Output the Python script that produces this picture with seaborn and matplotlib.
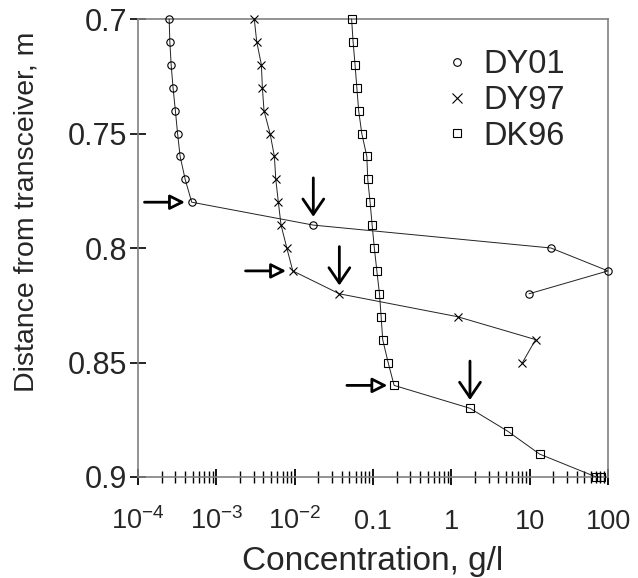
import numpy as np
import pandas as pd
import matplotlib
matplotlib.use("Agg")
import matplotlib.pyplot as plt
from matplotlib.lines import Line2D
from matplotlib.ticker import FixedLocator, LogLocator, NullFormatter
import seaborn as sns

# ---------------- data ----------------
depth_DY01 = [0.70, 0.71, 0.72, 0.73, 0.74, 0.75, 0.76, 0.77, 0.78, 0.79, 0.80, 0.81, 0.82]
conc_DY01 = [2.5e-4, 2.55e-4, 2.65e-4, 2.8e-4, 3.0e-4, 3.2e-4, 3.45e-4, 4.0e-4, 4.85e-4,
             0.0173, 18.7, 100.0, 9.8]

depth_DY97 = [0.70, 0.71, 0.72, 0.73, 0.74, 0.75, 0.76, 0.77, 0.78, 0.79, 0.80, 0.81,
              0.82, 0.83, 0.84, 0.85]
conc_DY97 = [3.05e-3, 3.28e-3, 3.76e-3, 3.87e-3, 4.06e-3, 4.85e-3, 5.51e-3, 5.74e-3,
             6.19e-3, 6.7e-3, 7.94e-3, 9.46e-3, 0.0372, 1.2, 11.9, 8.1]

depth_DK96 = [0.70, 0.71, 0.72, 0.73, 0.74, 0.75, 0.76, 0.77, 0.78, 0.79, 0.80, 0.81,
              0.82, 0.83, 0.84, 0.85, 0.86, 0.87, 0.88, 0.89, 0.90, 0.90]
conc_DK96 = [0.0533, 0.0557, 0.059, 0.0622, 0.0656, 0.0719, 0.0834, 0.0857, 0.0918,
             0.0975, 0.104, 0.112, 0.121, 0.127, 0.133, 0.156, 0.186, 1.73, 5.24,
             13.4, 70.6, 82.0]

series_names = ["DY01", "DY97", "DK96"]
series_markers = ["o", "x", "s"]

# points marked with arrows (index in each series)
right_arrow_idx = {"DY01": 8, "DY97": 11, "DK96": 16}
down_arrow_idx = {"DY01": 9, "DY97": 12, "DK96": 17}

x_ticks = [1e-4, 1e-3, 1e-2, 0.1, 1, 10, 100]
x_ticklabels = [r"$\mathregular{10^{-4}}$", r"$\mathregular{10^{-3}}$",
                r"$\mathregular{10^{-2}}$", "0.1", "1", "10", "100"]
y_ticks = [0.7, 0.75, 0.8, 0.85, 0.9]
y_ticklabels = ["0.7", "0.75", "0.8", "0.85", "0.9"]

# ---------------- style ----------------
sns.set_theme(style="white")
plt.rcParams["font.family"] = ["Liberation Sans", "DejaVu Sans"]
plt.rcParams["mathtext.fontset"] = "custom"
plt.rcParams["mathtext.rm"] = "Liberation Sans"
plt.rcParams["mathtext.it"] = "Liberation Sans"

df = pd.concat([
    pd.DataFrame({"conc": conc_DY01, "depth": depth_DY01, "series": "DY01"}),
    pd.DataFrame({"conc": conc_DY97, "depth": depth_DY97, "series": "DY97"}),
    pd.DataFrame({"conc": conc_DK96, "depth": depth_DK96, "series": "DK96"}),
], ignore_index=True)

fig = plt.figure(figsize=(6.38, 5.78), dpi=100)
ax = fig.add_axes([138 / 638, 1 - 477 / 578, (608 - 138) / 638, (477 - 19) / 578])

msizes = {"o": 5.3, "x": 6.0, "s": 6.0}
for name, mk in zip(series_names, series_markers):
    sub = df[df["series"] == name]
    sns.lineplot(data=sub, x="conc", y="depth", ax=ax, sort=False, estimator=None,
                 color="#222222", lw=0.7, marker=mk, markersize=msizes[mk],
                 markerfacecolor="none", markeredgecolor="black",
                 markeredgewidth=0.8, clip_on=False, zorder=3)

ax.set_xscale("log")
ax.set_xlim(1e-4, 100)
ax.set_ylim(0.9, 0.7)

# arrows
arrow_right = dict(arrowstyle="-|>,head_length=0.9,head_width=0.45", lw=2.0,
                   edgecolor="black", facecolor="white", shrinkA=0, shrinkB=4.8,
                   mutation_scale=10)
arrow_down = dict(arrowstyle="->,head_length=1.1,head_width=0.75", lw=2.0,
                  color="black", shrinkA=0, shrinkB=6.0, mutation_scale=10)
for name in series_names:
    sub = df[df["series"] == name].reset_index(drop=True)
    i = right_arrow_idx[name]
    ax.annotate("", xy=(sub.loc[i, "conc"], sub.loc[i, "depth"]), xycoords="data",
                xytext=(-34, 0), textcoords="offset points", arrowprops=arrow_right,
                annotation_clip=False)
    j = down_arrow_idx[name]
    ax.annotate("", xy=(sub.loc[j, "conc"], sub.loc[j, "depth"]), xycoords="data",
                xytext=(0, 34), textcoords="offset points", arrowprops=arrow_down,
                annotation_clip=False)

# ticks
ax.xaxis.set_major_locator(FixedLocator(x_ticks))
ax.xaxis.set_minor_locator(LogLocator(base=10, subs=np.arange(2, 10), numticks=20))
ax.xaxis.set_minor_formatter(NullFormatter())
ax.set_xticks(x_ticks, labels=x_ticklabels, va="baseline")
ax.set_yticks(y_ticks, labels=y_ticklabels)
ax.tick_params(axis="x", which="major", direction="inout", length=11, width=1.3,
               color="black", labelsize=19.5, pad=32, bottom=True)
ax.tick_params(axis="x", which="minor", direction="inout", length=8, width=1.0,
               color="black", bottom=True)
ax.tick_params(axis="y", which="major", direction="inout", length=12, width=1.2,
               color="black", labelsize=22, pad=1.5, left=True)

for s in ax.spines.values():
    s.set_color("#808080")
    s.set_linewidth(1.2)

ax.set_xlabel("Concentration, g/l", fontsize=24, labelpad=8)
ax.set_ylabel("Distance from transceiver, m", fontsize=20.5)
ax.yaxis.set_label_coords(-0.21, 0.58)

handles = [Line2D([], [], ls="none", marker=m, markersize=5.5 if m != "x" else 6.5,
                  markerfacecolor="none", markeredgecolor="black", markeredgewidth=0.8)
           for m in series_markers]
ax.legend(handles, series_names, loc="upper left", bbox_to_anchor=(0.63, 0.962),
          frameon=False, fontsize=23.5, handlelength=0.6, handletextpad=0.5,
          labelspacing=0.14, borderaxespad=0)

fig.savefig("out.png", dpi=100)
